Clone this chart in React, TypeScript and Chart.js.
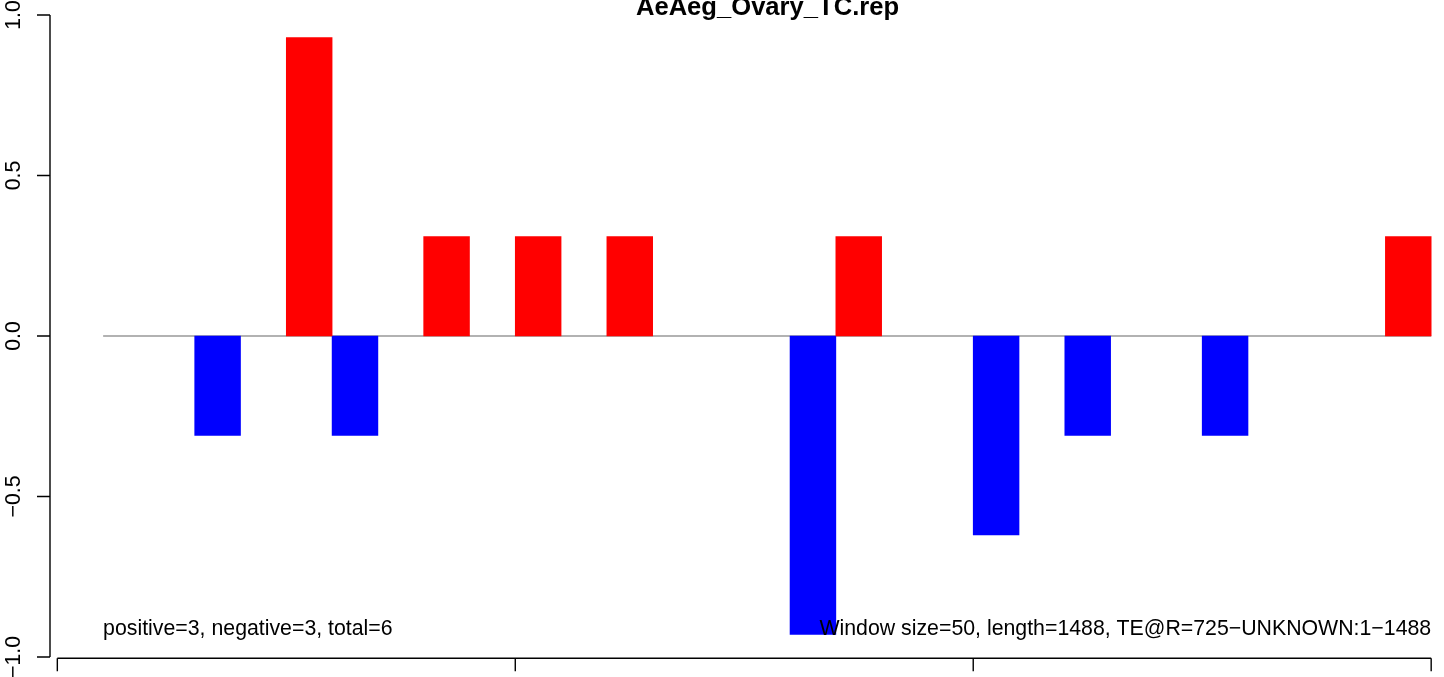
import React, { useEffect, useRef } from "react";
import { Chart, registerables } from "chart.js";

Chart.register(...registerables);

const titleText = "AeAeg_Ovary_TC.rep";
const windowSize = 50;
const redWindowStarts = [250, 400, 500, 600, 850, 1450];
const redValues = [0.93, 0.31, 0.31, 0.31, 0.31, 0.31];
const blueWindowStarts = [150, 300, 800, 1000, 1100, 1250];
const blueValues = [-0.31, -0.31, -0.93, -0.62, -0.31, -0.31];
const baselineStarts = [50, 1500];
const baselineValues = [0, 0];
const xTickValues = [0, 500, 1000, 1500];
const yTickValues = [-1, -0.5, 0, 0.5, 1];
const yTickLabels = ["\u22121.0", "\u22120.5", "0.0", "0.5", "1.0"];
const leftNote = "positive=3, negative=3, total=6";
const rightNote = "Window size=50, length=1488, TE@R=725\u2212UNKNOWN:1\u22121488";
const noteX = [50, 1500];
const noteY = -0.93;

const FONT = '"Liberation Sans", Arial, Helvetica, sans-serif';

const rAxesPlugin = {
  id: "rAxes",
  afterDraw(chart: any) {
    const ctx = chart.ctx;
    const xs = chart.scales.x;
    const ys = chart.scales.y;
    const area = chart.chartArea;
    ctx.save();
    ctx.strokeStyle = "#000";
    ctx.lineWidth = 1.4;
    ctx.lineCap = "butt";
    // y axis
    const yAxisX = area.left;
    const yTop = ys.getPixelForValue(yTickValues[yTickValues.length - 1]);
    const yBot = ys.getPixelForValue(yTickValues[0]);
    ctx.beginPath();
    ctx.moveTo(yAxisX, yTop);
    ctx.lineTo(yAxisX, yBot);
    yTickValues.forEach((v) => {
      const p = ys.getPixelForValue(v);
      ctx.moveTo(yAxisX, p);
      ctx.lineTo(yAxisX - 13, p);
    });
    ctx.stroke();
    // x axis
    const xAxisY = area.bottom + 1.3;
    const xL = xs.getPixelForValue(xTickValues[0]);
    const xR = xs.getPixelForValue(xTickValues[xTickValues.length - 1]);
    ctx.beginPath();
    ctx.moveTo(xL, xAxisY);
    ctx.lineTo(xR, xAxisY);
    xTickValues.forEach((v) => {
      const p = xs.getPixelForValue(v);
      ctx.moveTo(p, xAxisY);
      ctx.lineTo(p, xAxisY + 13);
    });
    ctx.stroke();
    // y labels rotated
    ctx.fillStyle = "#000";
    ctx.font = `21.3px ${FONT}`;
    yTickValues.forEach((v, i) => {
      const p = ys.getPixelForValue(v);
      ctx.save();
      ctx.translate(20, p);
      ctx.rotate(-Math.PI / 2);
      ctx.textAlign = "center";
      ctx.textBaseline = "alphabetic";
      ctx.fillText(yTickLabels[i], 0, 0);
      ctx.restore();
    });
    // notes
    const ny = ys.getPixelForValue(noteY);
    ctx.textBaseline = "alphabetic";
    ctx.textAlign = "left";
    ctx.fillText(leftNote, xs.getPixelForValue(noteX[0]), ny);
    ctx.textAlign = "right";
    ctx.fillText(rightNote, xs.getPixelForValue(noteX[1]), ny);
    // title
    ctx.font = `bold 25.6px ${FONT}`;
    ctx.textAlign = "center";
    ctx.fillText(titleText, 767.5, 14.5);
    ctx.restore();
  },
};

export default function App() {
  const ref = useRef<HTMLCanvasElement | null>(null);
  useEffect(() => {
    if (!ref.current) return;
    const red = redWindowStarts.map((s, i) => ({ x: s + windowSize / 2, y: redValues[i] }));
    const blue = blueWindowStarts.map((s, i) => ({ x: s + windowSize / 2, y: blueValues[i] }));
    const base = baselineStarts.map((x, i) => ({ x, y: baselineValues[i] }));
    const chart = new Chart(ref.current, {
      type: "bar",
      data: {
        datasets: [
          {
            type: "bar",
            data: red,
            backgroundColor: "#FF0000",
            borderWidth: 0,
            grouped: false,
            categoryPercentage: 1,
            barPercentage: 1,
            order: 1,
          } as any,
          {
            type: "bar",
            data: blue,
            backgroundColor: "#0000FF",
            borderWidth: 0,
            grouped: false,
            categoryPercentage: 1,
            barPercentage: 1,
            order: 1,
          } as any,
          {
            type: "line",
            data: base,
            borderColor: "#999999",
            borderWidth: 1.4,
            pointRadius: 0,
            order: 2,
          } as any,
        ],
      },
      options: {
        animation: false,
        responsive: false,
        maintainAspectRatio: false,
        layout: { padding: { left: 50, right: 0, top: 15, bottom: 20 } },
        plugins: { legend: { display: false }, tooltip: { enabled: false }, title: { display: false } },
        scales: {
          x: { type: "linear", min: -8, max: 1514, display: false, offset: false },
          y: { type: "linear", min: -1, max: 1, display: false },
        },
      },
      plugins: [rAxesPlugin],
    });
    return () => chart.destroy();
  }, []);
  return (
    <div style={{ position: "fixed", left: 0, top: 0, width: 1444, height: 677, background: "#fff" }}>
      <canvas ref={ref} width={1444} height={677} style={{ display: "block", width: 1444, height: 677 }} />
    </div>
  );
}
